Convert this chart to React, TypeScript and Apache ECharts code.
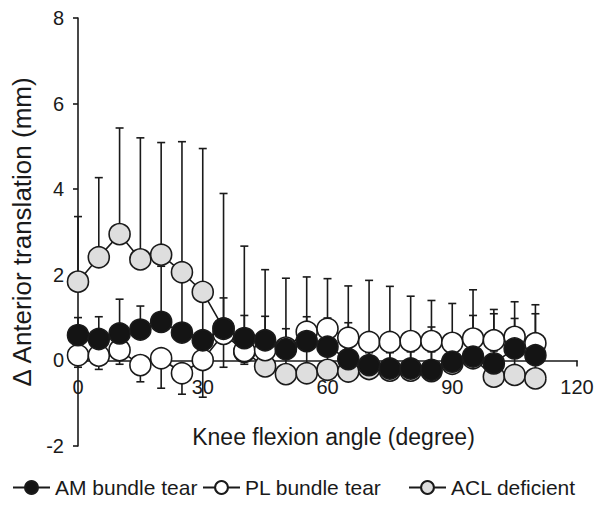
import React, { useEffect, useRef } from "react";
import * as echarts from "echarts";

const angles = [0, 5, 10, 15, 20, 25, 30, 35, 40, 45, 50, 55, 60, 65, 70, 75, 80, 85, 90, 95, 100, 105, 110];

const amMean = [0.59, 0.5, 0.63, 0.72, 0.9, 0.65, 0.47, 0.74, 0.52, 0.47, 0.26, 0.45, 0.32, 0.03, -0.11, -0.19, -0.19, -0.22, -0.03, 0.09, -0.07, 0.28, 0.12];
const amSD = [0.41, 0.52, 0.8, 0.55, 1.3, 1.25, 1.0, 0.72, 0.53, 0.56, 0.48, 0.57, 0.67, 0.85, 0.7, 0.8, 0.75, 1.0, 0.6, 0.96, 1.16, 0.7, 0.97];

const plMean = [0.12, 0.11, 0.24, -0.11, 0.05, -0.3, 0.01, 0.62, 0.22, 0.24, 0.3, 0.67, 0.74, 0.53, 0.43, 0.43, 0.45, 0.45, 0.41, 0.51, 0.47, 0.55, 0.4];
const plSD = [0.28, 0.32, 0.33, 0.39, 0.7, 0.49, 0.87, 0.78, 0.31, 0.25, 0.25, 0.25, 0.25, 0.25, 0.25, 0.25, 0.25, 0.25, 0.25, 0.25, 0.25, 0.25, 0.25];

const aclMean = [1.84, 2.41, 2.95, 2.36, 2.47, 2.06, 1.6, 0.75, 0.2, -0.14, -0.32, -0.3, -0.22, -0.26, -0.2, -0.24, -0.24, -0.25, -0.08, 0.05, -0.38, -0.34, -0.42];
const aclSD = [1.52, 1.86, 2.48, 2.84, 2.62, 3.05, 3.35, 3.15, 2.47, 2.26, 2.24, 2.25, 2.13, 2.0, 2.07, 1.97, 1.74, 1.65, 1.41, 1.6, 1.57, 1.71, 1.72];

const seriesNames = ["AM bundle tear", "PL bundle tear", "ACL deficient"];
const xTickMin = 0;
const xTickMax = 120;
const xTickStep = 30;
const yTickMin = -2;
const yTickMax = 8;
const yTickStep = 2;

const FONT = "'Liberation Sans', Arial, Helvetica, sans-serif";
const INK = "#1a1a1a";

const GRID_TOP = 18;
const GRID_BOTTOM = 61;
const CHART_H = 507;

function errorData(mean: number[], sd: number[], dir: number) {
  return angles.map((a, i) => [a, mean[i], mean[i] + dir * sd[i]]);
}

function renderErr(params: any, api: any) {
  const x = api.value(0);
  const p0 = api.coord([x, api.value(1)]);
  const p1 = api.coord([x, api.value(2)]);
  const hw = 4;
  const style = { stroke: INK, lineWidth: 1.6 };
  return {
    type: "group",
    children: [
      { type: "line", shape: { x1: p0[0], y1: p0[1], x2: p1[0], y2: p1[1] }, style },
      { type: "line", shape: { x1: p1[0] - hw, y1: p1[1], x2: p1[0] + hw, y2: p1[1] }, style },
    ],
  };
}

export default function App() {
  const ref = useRef<HTMLDivElement>(null);
  useEffect(() => {
    if (!ref.current) return;
    const chart = echarts.init(ref.current, null, { renderer: "svg" });
    const mk = (name: string, mean: number[], fill: string, z: number) => ({
      name,
      type: "line",
      data: angles.map((a, i) => [a, mean[i]]),
      symbol: "circle",
      symbolSize: 21,
      z,
      lineStyle: { color: INK, width: 1.6 },
      itemStyle: { color: fill, borderColor: INK, borderWidth: 1.6 },
    });
    const err = (mean: number[], sd: number[], dir: number) => ({
      type: "custom",
      renderItem: renderErr,
      data: errorData(mean, sd, dir),
      encode: { x: 0, y: [1, 2] },
      z: 1,
      silent: true,
    });
    // place the x axis on the y = 0 line (labels and name move with it)
    const plotH = CHART_H - GRID_TOP - GRID_BOTTOM;
    const zeroOffset = -plotH * ((0 - yTickMin) / (yTickMax - yTickMin));
    const legendBase = {
      top: 477,
      padding: 0,
      itemWidth: 37,
      itemHeight: 16,
      textStyle: { fontSize: 21, color: INK, fontFamily: FONT },
    };
    chart.setOption({
      animation: false,
      textStyle: { fontFamily: FONT },
      grid: { left: 78, right: 28, top: GRID_TOP, bottom: GRID_BOTTOM, containLabel: false, outerBoundsMode: "none" },
      legend: [
        { ...legendBase, data: [seriesNames[0]], left: 12 },
        { ...legendBase, data: [seriesNames[1]], left: 202 },
        { ...legendBase, data: [seriesNames[2]], left: 408 },
      ],
      xAxis: {
        type: "value",
        min: xTickMin,
        max: xTickMax,
        interval: xTickStep,
        offset: zeroOffset,
        splitLine: { show: false },
        axisLine: { onZero: false, lineStyle: { color: INK, width: 1.6 } },
        axisTick: { show: true, length: 6, lineStyle: { color: INK, width: 1.6 } },
        axisLabel: { fontSize: 20, color: INK, margin: 17, fontFamily: FONT },
        name: "Knee flexion angle (degree)",
        nameLocation: "middle",
        nameGap: 65,
        nameTextStyle: { fontSize: 23, color: INK, fontFamily: FONT, padding: [0, 0, 0, 12] },
      },
      yAxis: {
        type: "value",
        min: yTickMin,
        max: yTickMax,
        interval: yTickStep,
        splitLine: { show: false },
        axisLine: { show: true, lineStyle: { color: INK, width: 1.6 } },
        axisTick: { show: true, length: 5, lineStyle: { color: INK, width: 1.6 } },
        axisLabel: { fontSize: 20, color: INK, margin: 14, fontFamily: FONT },
        name: "\u0394 Anterior translation (mm)",
        nameLocation: "middle",
        nameRotate: 90,
        nameGap: 40,
        nameTextStyle: { fontSize: 26, color: INK, fontFamily: FONT },
      },
      series: [
        err(aclMean, aclSD, 1),
        err(amMean, amSD, 1),
        err(plMean, plSD, -1),
        mk("ACL deficient", aclMean, "#dedede", 2),
        mk("PL bundle tear", plMean, "#ffffff", 3),
        mk("AM bundle tear", amMean, "#141414", 4),
      ],
    });
    return () => chart.dispose();
  }, []);
  return (
    <div
      ref={ref}
      style={{ position: "fixed", left: 0, top: 0, width: 605, height: CHART_H, background: "#fff" }}
    />
  );
}
